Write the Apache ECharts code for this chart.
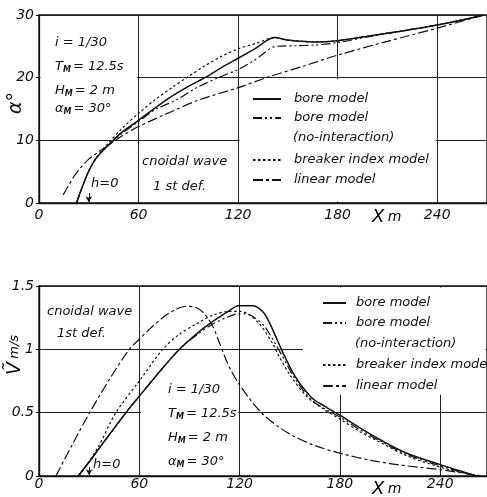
<!DOCTYPE html>
<html>
<head>
<meta charset="utf-8">
<script src="https://cdn.jsdelivr.net/npm/echarts@6/dist/echarts.min.js"></script>
<style>
  html, body { margin: 0; padding: 0; background: #fff; }
  #chart { width: 487px; height: 497px; }
</style>
</head>
<body>
<div id="chart"></div>
<script>
// series names (shared by both panels)
var nameBore = 'bore model';
var nameNoInter = 'bore model (no-interaction)';
var nameBreaker = 'breaker index model';
var nameLinear = 'linear model';

// top panel: wave angle alpha (deg) vs X (m)
var alphaBore = [[22.6, 0], [26, 2.5], [30, 5.1], [34, 7.0], [38, 8.2], [42, 9.3], [50, 11.3], [60, 13.2],
  [77, 16.5], [90, 18.6], [100, 20], [110, 21.6], [120, 23.1], [130, 24.6], [142, 26.4], [150, 26.0],
  [158, 25.8], [166, 25.7], [180, 25.9], [200, 26.7], [220, 27.5], [240, 28.4], [255, 29.2], [268, 30]];
var alphaNoInter = [[22.6, 0], [26, 2.5], [30, 5.1], [34, 7.0], [38, 8.2], [42, 9.2], [50, 11.1], [60, 13.0],
  [70, 14.9], [83, 16.5], [95, 18.4], [108, 20], [120, 21.3], [130, 22.8], [143, 25.0], [155, 25.1],
  [166, 25.2], [180, 25.6], [200, 26.6], [220, 27.5], [240, 28.4], [255, 29.2], [268, 30]];
var alphaBreaker = [[22.6, 0], [26, 2.5], [30, 5.1], [34, 7.0], [38, 8.4], [42, 9.6], [50, 11.9], [60, 14.3],
  [70, 16.5], [80, 18.4], [89, 20], [100, 21.9], [110, 23.4], [120, 24.6], [131, 25.5], [142, 26.4],
  [150, 26.0], [166, 25.7], [180, 25.9], [200, 26.7], [240, 28.4], [268, 30]];
var alphaLinear = [[14.6, 1.3], [18, 2.9], [22, 4.6], [26, 5.9], [30, 7.0], [35, 8.0], [40, 8.9], [50, 10.7],
  [60, 12.2], [80, 14.6], [97, 16.5], [120, 18.4], [137, 20], [160, 21.9], [180, 23.6], [210, 25.8],
  [240, 27.9], [268, 30]];

// bottom panel: longshore current V (m/s) vs X (m)
var vBore = [[23.4, 0], [30, 0.11], [40, 0.29], [52, 0.5], [60, 0.63], [70, 0.79], [84, 1.0], [95, 1.13],
  [104, 1.22], [112, 1.29], [119.5, 1.345], [128, 1.345], [131, 1.33], [135, 1.28], [140, 1.15],
  [145, 1.0], [153, 0.79], [163, 0.62], [171, 0.55], [180, 0.48], [192, 0.38], [205, 0.28],
  [220, 0.18], [240, 0.09], [262, 0]];
var vNoInter = [[23.4, 0], [30, 0.11], [40, 0.29], [52, 0.5], [60, 0.63], [70, 0.79], [84, 1.0], [95, 1.12],
  [104, 1.2], [112, 1.25], [119, 1.28], [124, 1.28], [128, 1.26], [135, 1.18], [145, 0.96],
  [153, 0.77], [163, 0.6], [171, 0.53], [180, 0.465], [192, 0.365], [205, 0.27], [220, 0.17],
  [240, 0.08], [262, 0]];
var vBreaker = [[24, 0], [35, 0.22], [46, 0.5], [60, 0.75], [74, 1.0], [84, 1.12], [94, 1.2], [104, 1.27],
  [114, 1.3], [120, 1.3], [125, 1.28], [132, 1.2], [140, 1.04], [143, 0.96], [150, 0.8], [160, 0.63],
  [170, 0.53], [180, 0.45], [192, 0.35], [205, 0.26], [220, 0.16], [240, 0.07], [262, 0]];
var vLinear = [[10.1, 0], [20, 0.25], [30.3, 0.5], [42, 0.76], [54, 1.0], [60, 1.08], [67, 1.17], [74, 1.25],
  [81, 1.31], [88, 1.34], [94, 1.33], [99, 1.28], [104, 1.18], [108, 1.05], [111.5, 0.93], [115, 0.83],
  [119.4, 0.73], [126, 0.61], [133, 0.5], [143, 0.39], [153, 0.31], [165, 0.24], [180, 0.18],
  [200, 0.12], [220, 0.08], [240, 0.05], [265, 0]];

// shoreline position (h = 0)
var shoreX = 30;

var ink = '#111';
var font = 'DejaVu Sans';

var styles = {};
styles[nameBore] = { color: ink, width: 1.5, type: 'solid' };
styles[nameNoInter] = { color: ink, width: 1.2, type: [9, 3, 2, 3, 2, 3] };
styles[nameBreaker] = { color: ink, width: 1.2, type: [2.5, 2.5] };
styles[nameLinear] = { color: ink, width: 1.2, type: [10, 3, 3, 3] };

function lineSeries(name, data, gi, extra) {
  var s = {
    name: name, type: 'line', xAxisIndex: gi, yAxisIndex: gi, data: data,
    symbol: 'none', smooth: 0.3, silent: true,
    lineStyle: styles[name], itemStyle: { color: ink }, z: 3
  };
  if (extra) s.markLine = extra;
  return s;
}

function arrow(y0, y1) {
  return {
    silent: true, symbol: ['none', 'arrow'], symbolSize: [5, 6],
    label: { show: false }, lineStyle: { color: ink, width: 1, type: 'solid' },
    data: [[{ coord: [shoreX, y0] }, { coord: [shoreX, y1] }]]
  };
}

function xAxis(gi, max, margin) {
  return {
    gridIndex: gi, type: 'value', min: 0, max: max, interval: 60,
    axisLine: { show: true, lineStyle: { color: ink, width: 1.4 } },
    axisTick: { show: false },
    splitLine: { show: true, lineStyle: { color: '#222', width: 1 } },
    axisLabel: { showMaxLabel: false, margin: margin, color: ink, fontSize: 14, fontStyle: 'italic', fontFamily: font }
  };
}

function yAxis(gi, max, interval) {
  return {
    gridIndex: gi, type: 'value', min: 0, max: max, interval: interval,
    axisLine: { show: true, lineStyle: { color: ink, width: 1.4 } },
    axisTick: { show: true, length: 3, lineStyle: { color: ink } },
    splitLine: { show: true, lineStyle: { color: '#222', width: 1 } },
    axisLabel: { margin: 5, color: ink, fontSize: 14, fontStyle: 'italic', fontFamily: font }
  };
}

function legend(names, left, top, w, gap, pad) {
  return {
    data: names, orient: 'vertical', left: left, top: top, padding: 0,
    itemWidth: w, itemHeight: 10, itemGap: gap, selectedMode: false,
    itemStyle: { color: 'rgba(0,0,0,0)', borderWidth: 0, opacity: 0 },
    formatter: function (n) { return n === nameNoInter ? nameBore : n; },
    textStyle: { color: ink, fontSize: 13, fontStyle: 'italic', fontFamily: font, lineHeight: 16, padding: [0, 0, 0, pad] }
  };
}

var chart = echarts.init(document.getElementById('chart'));
chart.setOption({
  animation: false,
  backgroundColor: '#fff',
  grid: [
    { left: 39, top: 15, right: -2, height: 188, show: true, borderColor: ink, borderWidth: 1.4 },
    { left: 39, top: 286, right: -2, height: 190, show: true, borderColor: ink, borderWidth: 1.4 }
  ],
  xAxis: [xAxis(0, 270, 5), xAxis(1, 268, 1)],
  yAxis: [yAxis(0, 30, 10), yAxis(1, 1.5, 0.5)],
  legend: [
    legend([nameBore, nameNoInter], 252, 91, 28, 3, 8),
    legend([nameBreaker, nameLinear], 252, 152, 28, 4, 8),
    legend([nameBore, nameNoInter], 322, 295, 23, 4, 5),
    legend([nameBreaker, nameLinear], 322, 357, 23, 5, 5)
  ],
  series: [
    lineSeries(nameBore, alphaBore, 0, arrow(1.6, 0.1)),
    lineSeries(nameNoInter, alphaNoInter, 0),
    lineSeries(nameBreaker, alphaBreaker, 0),
    lineSeries(nameLinear, alphaLinear, 0),
    lineSeries(nameBore, vBore, 1, arrow(0.07, 0.005)),
    lineSeries(nameNoInter, vNoInter, 1),
    lineSeries(nameBreaker, vBreaker, 1),
    lineSeries(nameLinear, vLinear, 1)
  ]
});

// white boxes behind the annotation blocks (hide grid lines, stay under curves)
function box(gi, x0, x1, y0, y1) {
  var a = chart.convertToPixel({ gridIndex: gi }, [x0, y1]);
  var b = chart.convertToPixel({ gridIndex: gi }, [x1, y0]);
  return { type: 'rect', z: 1, silent: true,
    shape: { x: a[0] + 1.5, y: a[1] + 1.5, width: b[0] - a[0] - 3, height: b[1] - a[1] - 3 },
    style: { fill: '#fff' } };
}

var baseRich = {
  s: { fontSize: 8, fontStyle: 'italic', fontFamily: font, fontWeight: 'bold', color: ink, padding: [5, 2, 0, 0] },
  n: { fontSize: 13, fontStyle: 'italic', fontFamily: font, color: ink }
};

function txt(x, y, text, size) {
  return { type: 'text', z: 10, silent: true, x: x, y: y,
    style: { text: text, fill: ink, fontSize: size || 13, fontStyle: 'italic', fontFamily: font,
      verticalAlign: 'middle', rich: baseRich } };
}

function params(x, ys) {
  return [
    txt(x, ys[0], '{n|i = 1/30}'),
    txt(x, ys[1], '{n|T}{s|M}{n|= 12.5s}'),
    txt(x, ys[2], '{n|H}{s|M}{n|= 2 m}'),
    txt(x, ys[3], '{n|α}{s|M}{n|= 30°}')
  ];
}

var g = [
  box(0, 120, 240, 0, 20),
  box(0, 0, 60, 10, 30),
  box(1, 157, 268, 0.63, 1.5),
  box(1, 60, 120, 0, 0.9)
];
g = g.concat(params(55, [43, 67, 91, 109]));
g = g.concat(params(168, [390, 414, 438, 462]));
g.push(txt(142, 162, 'cnoidal wave'));
g.push(txt(153, 187, '1 st def.'));
g.push(txt(47, 312, 'cnoidal wave'));
g.push(txt(57, 334, '1st def.'));
g.push(txt(91, 184, 'h=0'));
g.push(txt(93, 465, 'h=0'));
g.push(txt(293, 138, '(no-interaction)'));
g.push(txt(355, 344, '(no-interaction)'));
g.push({ type: 'text', z: 10, silent: true, x: 372, y: 217,
  style: { text: '{X|X} {m|m}', verticalAlign: 'middle',
    rich: { X: { fontSize: 18, fontStyle: 'italic', fontFamily: font, color: ink },
            m: { fontSize: 14, fontStyle: 'italic', fontFamily: font, color: ink } } } });
g.push({ type: 'text', z: 10, silent: true, x: 372, y: 489,
  style: { text: '{X|X} {m|m}', verticalAlign: 'middle',
    rich: { X: { fontSize: 18, fontStyle: 'italic', fontFamily: font, color: ink },
            m: { fontSize: 14, fontStyle: 'italic', fontFamily: font, color: ink } } } });
g.push({ type: 'text', z: 10, silent: true, x: 16, y: 103, rotation: Math.PI / 2,
  style: { text: 'α°', align: 'center', verticalAlign: 'middle', fill: ink,
    fontSize: 19, fontStyle: 'italic', fontFamily: font } });
g.push({ type: 'text', z: 10, silent: true, x: 15, y: 355, rotation: Math.PI / 2,
  style: { text: '{v|Ṽ} {u|m/s}', align: 'center', verticalAlign: 'middle',
    rich: { v: { fontSize: 19, fontStyle: 'italic', fontFamily: font, color: ink },
            u: { fontSize: 13, fontStyle: 'italic', fontFamily: font, color: ink } } } });

chart.setOption({ graphic: g });
</script>
</body>
</html>
